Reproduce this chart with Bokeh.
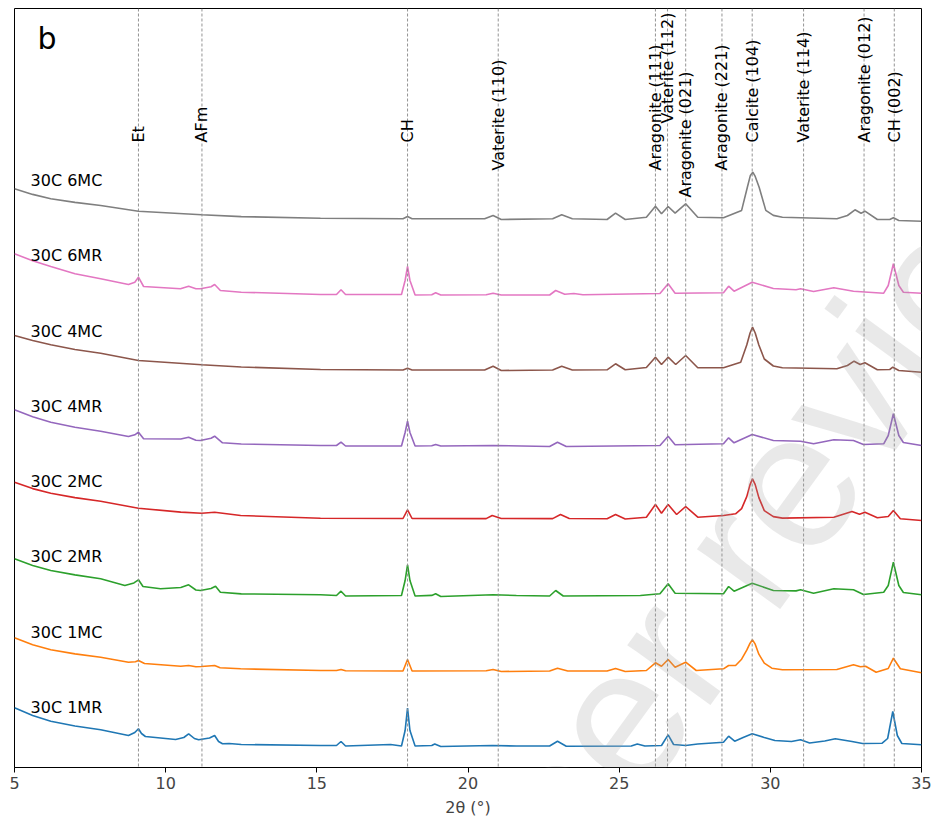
import math
from bokeh.plotting import figure
from bokeh.models import Range1d, Span, Label, FixedTicker
from bokeh.embed import file_html
from bokeh.resources import INLINE

# ---------------- data ----------------
series_names = ["30C 1MR", "30C 1MC", "30C 2MR", "30C 2MC",
                "30C 4MR", "30C 4MC", "30C 6MR", "30C 6MC"]
series_colors = ["#1f77b4", "#ff7f0e", "#2ca02c", "#d62728",
                 "#9467bd", "#8c564b", "#e377c2", "#7f7f7f"]

# (2theta, intensity a.u.) pairs per pattern
pts_1MR = [(5.0, 59.7), (5.6, 52), (6.2, 46.3), (7.0, 41.5), (7.85, 37.7), (8.77, 32), (8.98, 35),
           (9.1, 38.7), (9.2, 34), (9.33, 31), (10.33, 28), (10.6, 30), (10.76, 33.7), (10.95, 29),
           (11.09, 27.7), (11.45, 29.5), (11.62, 32), (11.75, 26), (11.88, 23.7), (12.1, 24),
           (12.5, 23), (15.12, 22), (15.65, 22), (15.8, 26), (15.95, 21.5), (17.44, 23), (17.8, 21.5),
           (17.92, 37), (18.0, 59.3), (18.08, 37), (18.25, 21.5), (18.8, 22), (18.9, 23.5), (19.1, 21),
           (20.8, 22), (21.6, 21.5), (22.7, 21.5), (22.96, 26.3), (23.25, 21.3), (25.4, 21.5),
           (25.6, 23.5), (25.85, 21.5), (26.4, 22), (26.62, 32.7), (26.8, 23), (27.2, 22), (27.6, 23.5),
           (28.45, 25.3), (28.62, 31.3), (28.82, 26.3), (29.1, 30), (29.4, 33.7), (29.8, 30),
           (30.15, 27), (30.7, 26), (31.0, 27.7), (31.3, 24.5), (31.8, 26.5), (32.15, 28.7),
           (32.7, 26), (33.05, 24), (33.7, 24.3), (33.88, 29), (34.05, 56), (34.2, 32), (34.35, 24),
           (35.0, 22.7)]
pts_1MC = [(5.0, 54.4), (5.6, 47.5), (6.2, 42.4), (7.0, 38.3), (7.85, 35), (8.77, 30), (9.0, 30.5),
           (9.1, 31.7), (9.3, 28.7), (10.5, 26), (10.76, 26.7), (11.0, 25.5), (11.19, 25.7),
           (11.62, 26.7), (11.8, 24.5), (12.48, 23.4), (15.12, 21.7), (15.65, 21.7), (15.8, 22.7),
           (15.95, 21.5), (17.85, 21.2), (18.0, 32.7), (18.15, 21.2), (20.6, 21.5), (20.83, 22.7),
           (21.1, 20.7), (22.7, 21.2), (22.96, 24), (23.3, 21.2), (24.6, 21.2), (24.88, 23.8),
           (25.2, 20.7), (25.9, 21.7), (26.2, 29.4), (26.4, 26), (26.62, 32.7), (26.85, 25),
           (27.2, 30), (27.55, 21.7), (28.45, 23.4), (28.62, 26.7), (28.85, 26.7), (29.05, 33),
           (29.22, 42), (29.33, 49), (29.41, 52.4), (29.5, 48), (29.62, 38), (29.8, 29), (30.05, 24),
           (30.4, 22.5), (32.2, 22.7), (32.75, 27.4), (32.98, 25.5), (33.15, 26), (33.5, 20),
           (33.9, 23.7), (34.07, 34), (34.3, 23.4), (35.0, 19.4)]
pts_2MR = [(5.0, 58.1), (5.6, 51.5), (6.2, 46.4), (7.0, 42), (7.85, 38.1), (8.65, 31.4), (8.95, 34),
           (9.1, 37.1), (9.25, 30.4), (9.83, 28.1), (10.5, 29.4), (10.76, 32.1), (11.0, 26.9),
           (11.15, 26.4), (11.5, 28.4), (11.65, 30.7), (11.81, 24.7), (12.5, 23), (15.12, 22.1),
           (15.65, 21.4), (15.8, 25.7), (15.95, 20.9), (17.8, 21.4), (17.92, 36.4), (18.0, 52.1),
           (18.08, 36.4), (18.25, 20.9), (18.8, 21.5), (18.93, 23.1), (19.1, 20.4), (20.83, 22.1),
           (21.6, 21.4), (22.7, 20.9), (22.9, 26.4), (23.15, 20.9), (25.7, 21.4), (26.35, 23.1),
           (26.62, 33.1), (26.85, 23.7), (28.45, 23.1), (28.62, 30.4), (28.8, 25.7), (29.4, 33.7),
           (30.1, 26.4), (30.85, 26), (31.0, 27.1), (31.43, 23.7), (32.1, 28.1), (32.75, 27.1),
           (33.08, 22.4), (33.75, 24.7), (33.9, 31.4), (34.07, 54.7), (34.25, 31.4), (34.4, 24.4),
           (35.0, 22.1)]
pts_2MC = [(5.0, 59.4), (5.6, 53), (6.2, 48.4), (7.0, 44), (7.85, 40.4), (9.1, 33.4), (10.5, 29.5),
           (11.19, 28.4), (11.62, 29.4), (12.48, 26.1), (15.12, 23.4), (17.85, 23.1), (18.0, 31.8),
           (18.15, 23.1), (20.6, 23), (20.8, 26.1), (21.1, 23.1), (22.8, 23), (23.06, 27.1),
           (23.35, 23.1), (24.6, 22.8), (24.88, 27.1), (25.2, 22.6), (25.9, 24.4), (26.2, 37.1),
           (26.4, 28.4), (26.62, 37.1), (26.9, 27.1), (27.2, 35.1), (27.6, 24.4), (28.45, 26.1),
           (28.85, 27.8), (29.05, 33), (29.22, 45), (29.33, 57), (29.41, 62.8), (29.5, 57),
           (29.62, 44), (29.8, 31), (30.1, 25), (30.4, 23.5), (32.1, 24.4), (32.7, 30.1),
           (32.95, 27.4), (33.13, 29.4), (33.54, 23.8), (33.9, 25.1), (34.07, 31.1), (34.3, 22.8),
           (35.0, 21.1)]
pts_4MR = [(5.0, 56.5), (5.6, 49.5), (6.2, 44.1), (7.0, 39), (7.85, 35.1), (8.77, 29.8), (8.98, 31.5),
           (9.1, 34.1), (9.27, 27.5), (10.5, 27.3), (10.76, 29.1), (11.0, 26), (11.15, 25.8),
           (11.5, 28), (11.62, 30.1), (11.88, 23.5), (12.5, 22.3), (15.12, 20.8), (15.65, 20.8),
           (15.8, 24.1), (15.95, 20.3), (17.8, 20.3), (17.92, 33.8), (18.0, 45.1), (18.08, 33.8),
           (18.25, 20.3), (18.8, 20.5), (18.93, 21.8), (19.1, 20.3), (20.83, 20.8), (22.7, 19.8),
           (22.96, 24.1), (23.25, 19.8), (26.35, 20.8), (26.62, 30.1), (26.85, 21.5), (28.45, 22.5),
           (28.62, 28.5), (28.8, 23.5), (29.4, 31.8), (30.1, 25.8), (31.0, 25.1), (31.43, 22.5),
           (32.1, 26.5), (32.75, 25.8), (33.08, 21.8), (33.75, 22.5), (33.9, 30.8), (34.07, 52.5),
           (34.25, 30.8), (34.4, 23.8), (35.0, 20.8)]
pts_4MC = [(5.0, 55.5), (5.6, 50.5), (6.2, 46.2), (7.0, 41.5), (7.85, 37.8), (9.1, 30.5),
           (11.19, 26.2), (12.5, 24), (15.12, 21.5), (17.85, 21), (18.0, 22.8), (18.15, 21),
           (20.55, 21), (20.83, 24.8), (21.1, 20.5), (22.8, 21), (23.1, 24.8), (23.45, 21),
           (24.6, 21.2), (24.88, 27.2), (25.2, 21.2), (25.9, 23.5), (26.2, 33.8), (26.4, 26.5),
           (26.62, 33.8), (26.87, 26.5), (27.2, 35.5), (27.6, 23.2), (28.45, 23.2), (29.02, 28.8),
           (29.22, 46), (29.33, 58), (29.41, 63.8), (29.5, 58), (29.62, 46), (29.8, 32), (30.1, 25),
           (30.4, 23.2), (32.2, 22.2), (32.55, 25.5), (32.77, 29.8), (32.97, 26.5), (33.13, 28.2),
           (33.54, 21.2), (33.95, 21.5), (34.05, 23.8), (34.25, 20.5), (35.0, 18.8)]
pts_6MR = [(5.0, 61.9), (5.6, 55), (6.2, 49.2), (7.0, 42), (7.85, 36.9), (8.77, 31.2), (8.98, 33.5),
           (9.1, 38.5), (9.27, 29.2), (10.49, 26.9), (10.76, 29.5), (11.0, 27), (11.15, 26.9),
           (11.5, 29), (11.62, 31.2), (11.81, 25.2), (12.5, 23.5), (15.12, 21.2), (15.65, 21.2),
           (15.8, 25.9), (15.95, 21.2), (17.8, 21.2), (17.92, 35.2), (18.0, 49.2), (18.08, 35.2),
           (18.25, 20.7), (18.8, 21), (18.93, 22.9), (19.1, 20.7), (20.6, 21), (20.83, 22.5),
           (21.1, 20.7), (22.7, 20.7), (22.9, 25.2), (23.2, 21.5), (23.5, 22.2), (23.8, 21),
           (26.35, 22.2), (26.62, 31.9), (26.85, 22.5), (28.45, 22.9), (28.62, 29.5), (28.8, 24.5),
           (29.4, 33.5), (30.1, 27.2), (30.85, 26), (31.0, 26.9), (31.43, 24.2), (32.1, 27.9),
           (32.75, 24.5), (33.75, 22.5), (33.9, 30.2), (34.07, 51.9), (34.25, 30.2), (34.4, 23.5),
           (35.0, 22.5)]
pts_6MC = [(5.0, 51.6), (5.6, 46), (6.2, 41.6), (7.0, 38), (7.85, 34.9), (9.1, 29.2), (11.19, 25.6),
           (12.5, 23.8), (15.12, 22.2), (17.85, 21.6), (18.0, 23.9), (18.15, 21.6), (20.55, 21.6),
           (20.83, 24.9), (21.1, 20.9), (22.8, 21.6), (23.1, 25.6), (23.45, 21.6), (24.6, 20.9),
           (24.88, 27.2), (25.2, 20.9), (25.9, 23.2), (26.2, 34.2), (26.4, 26.6), (26.62, 33.9),
           (26.85, 27.2), (27.2, 36.6), (27.6, 23.2), (28.45, 22.6), (29.05, 30), (29.24, 53.2),
           (29.34, 65), (29.42, 68.2), (29.5, 64), (29.63, 53.2), (29.85, 30), (30.1, 25),
           (30.4, 23.2), (32.2, 21.6), (32.55, 24.9), (32.8, 30.6), (33.0, 27.2), (33.13, 29.2),
           (33.54, 20.9), (33.95, 20.9), (34.07, 22.6), (34.25, 19.9), (35.0, 19.2)]
patterns = [pts_1MR, pts_1MC, pts_2MR, pts_2MC, pts_4MR, pts_4MC, pts_6MR, pts_6MC]

# reference reflections
ref_positions = [9.1, 11.2, 18.0, 21.0, 26.2, 26.6, 27.2, 28.4, 29.4, 31.1, 33.1, 34.1]
ref_labels = ["Et", "AFm", "CH", "Vaterite (110)", "Aragonite (111)", "Vaterite (112)",
              "Aragonite (021)", "Aragonite (221)", "Calcite (104)", "Vaterite (114)",
              "Aragonite (012)", "CH (002)"]
x_ticks = [5, 10, 15, 20, 25, 30, 35]

# ---------------- layout / style ----------------
OFFSET = 75.3
FONT = "DejaVu Sans"
label_y = [625, 625, 625, 597, 597, 644, 570, 597, 625, 625, 625, 625]

p = figure(width=933, height=822, x_range=Range1d(5, 35), y_range=Range1d(0, 759),
           output_backend="svg", toolbar_location=None,
           min_border_left=14, min_border_right=12, min_border_top=8, min_border_bottom=55)
p.background_fill_color = "white"
p.border_fill_color = "white"
p.outline_line_color = "black"
p.outline_line_width = 1
p.xgrid.visible = False
p.ygrid.visible = False
p.yaxis.visible = False

ax = p.xaxis[0]
ax.ticker = FixedTicker(ticks=x_ticks)
ax.axis_label = "2θ (°)"
ax.axis_label_text_font = FONT
ax.axis_label_text_font_style = "normal"
ax.axis_label_text_font_size = "16px"
ax.axis_label_standoff = 6
ax.major_label_text_font = FONT
ax.major_label_text_font_size = "16px"
ax.major_label_standoff = 4
ax.major_tick_out = 5
ax.major_tick_in = 0
ax.minor_tick_line_color = None
ax.axis_line_color = "black"

for xpos in ref_positions:
    p.add_layout(Span(location=xpos, dimension="height", line_color="#888888",
                      line_dash="3 2", line_width=0.9))

for i, (pts, name, col) in enumerate(zip(patterns, series_names, series_colors)):
    xs = [a for a, b in pts]
    ys = [b + i * OFFSET for a, b in pts]
    p.line(xs, ys, line_color=col, line_width=1.6)
    p.add_layout(Label(x=5.53, y=60 + i * OFFSET, text=name, text_font=FONT,
                       text_font_size="16px", text_baseline="middle", text_align="left",
                       text_color="black"))

for xpos, txt, ly in zip(ref_positions, ref_labels, label_y):
    p.add_layout(Label(x=xpos, y=ly, text=txt, angle=math.pi / 2, text_font=FONT,
                       text_font_size="16px", text_baseline="middle", text_align="left",
                       text_color="black"))

p.add_layout(Label(x=5.76, y=729, text="b", text_font=FONT, text_font_size="30px",
                   text_baseline="middle", text_align="left", text_color="black"))

# watermark over the whole picture
p.add_layout(Label(x=19.24, y=-188, text="Peer review", angle=math.radians(54),
                   text_font="Liberation Sans", text_font_size="194px", text_color="#999999",
                   text_alpha=0.22, text_baseline="alphabetic", text_align="left"))

open("out.html", "w").write(file_html(p, INLINE))
